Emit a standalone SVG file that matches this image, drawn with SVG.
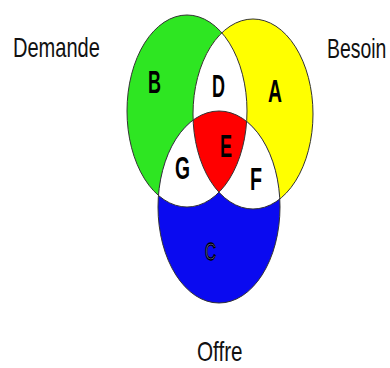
<svg xmlns="http://www.w3.org/2000/svg" width="390" height="368" viewBox="0 0 390 368">
  <style>
    .lbl { font-family: "Liberation Sans", Arial, sans-serif; font-size: 27px; fill: #111; }
    .reg { font-family: "Liberation Sans", Arial, sans-serif; font-weight: bold; font-size: 32px; fill: #000; }
    .edge { fill: none; stroke: #333; stroke-width: 1; }
  </style>
  <defs>
    <ellipse id="setB" cx="187" cy="111" rx="60" ry="96"/>
    <ellipse id="setA" cx="253" cy="114" rx="60" ry="95"/>
    <ellipse id="setC" cx="219" cy="207" rx="61" ry="96"/>
    <clipPath id="clipB"><use href="#setB"/></clipPath>
    <clipPath id="clipA"><use href="#setA"/></clipPath>
    <clipPath id="clipC"><use href="#setC"/></clipPath>
  </defs>

  <rect width="390" height="368" fill="#fff"/>

  <!-- base fills of the three sets -->
  <g id="set-demande"><use href="#setB" fill="#2ee622"/></g>
  <g id="set-besoin"><use href="#setA" fill="#ffff00"/></g>
  <g id="set-offre"><use href="#setC" fill="#0a0af0"/></g>

  <!-- pairwise overlaps left white -->
  <g id="overlap-D" clip-path="url(#clipB)"><use href="#setA" fill="#fff"/></g>
  <g id="overlap-G" clip-path="url(#clipB)"><use href="#setC" fill="#fff"/></g>
  <g id="overlap-F" clip-path="url(#clipA)"><use href="#setC" fill="#fff"/></g>

  <!-- triple overlap -->
  <g id="overlap-E" clip-path="url(#clipB)">
    <g clip-path="url(#clipA)"><use href="#setC" fill="#ff0000"/></g>
  </g>

  <!-- outlines -->
  <g id="outlines">
    <use href="#setB" class="edge"/>
    <use href="#setA" class="edge"/>
    <use href="#setC" class="edge"/>
  </g>

  <!-- region letters -->
  <g id="region-labels">
    <text class="reg" x="148" y="93" textLength="13" lengthAdjust="spacingAndGlyphs">B</text>
    <text class="reg" x="212" y="97" textLength="13" lengthAdjust="spacingAndGlyphs">D</text>
    <text class="reg" x="268" y="102" textLength="14" lengthAdjust="spacingAndGlyphs">A</text>
    <text class="reg" x="220" y="157" font-size="30" textLength="12" lengthAdjust="spacingAndGlyphs">E</text>
    <text class="reg" x="175" y="179" font-size="28" textLength="15" lengthAdjust="spacingAndGlyphs">G</text>
    <text class="reg" x="250" y="190" textLength="12" lengthAdjust="spacingAndGlyphs">F</text>
    <text x="205" y="260" font-family="Liberation Sans, Arial, sans-serif" font-size="24" fill="#9a9af2" stroke="#000" stroke-width="1.4" textLength="11" lengthAdjust="spacingAndGlyphs">C</text>
  </g>

  <!-- set names, narrowed horizontally -->
  <g id="set-names">
    <text class="lbl" transform="translate(13,57) scale(0.743,1)">Demande</text>
    <text class="lbl" transform="translate(327,58) scale(0.72,1)">Besoin</text>
    <text class="lbl" transform="translate(197,361) scale(0.767,1)">Offre</text>
  </g>
</svg>
